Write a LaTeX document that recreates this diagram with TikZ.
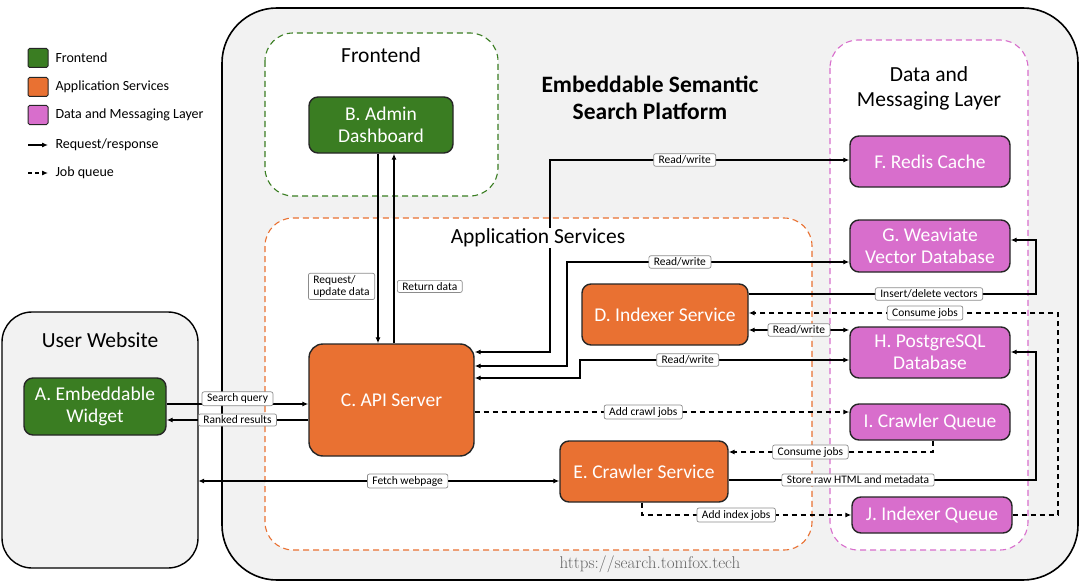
\documentclass[tikz,border=0pt]{standalone}
\usepackage{fontspec}
\setmainfont{Carlito}
\usetikzlibrary{arrows.meta,calc}
\definecolor{fg}{HTML}{3A7D22}
\definecolor{ap}{HTML}{E97132}
\definecolor{dm}{HTML}{D86ECC}
\definecolor{bg}{HTML}{F2F2F2}
\tikzset{
 x=1pt,y=-1pt,
 svc/.style={draw=black!85,line width=1.4pt,rounded corners=9pt,text=white,align=center,inner sep=0pt,font=\fontsize{19.5}{22}\selectfont},
 lbl/.style={draw=black!45,solid,line width=0.7pt,fill=white,rounded corners=2pt,font=\fontsize{11.5}{12.5}\selectfont,inner xsep=5pt,inner ysep=2pt,align=center},
 con/.style={line width=1.1pt,-{Latex[length=6pt,width=5pt]}},
 dcon/.style={con,dashed,dash pattern=on 5pt off 4pt},
 bcon/.style={con,{Latex[length=6pt,width=5pt]}-{Latex[length=6pt,width=5pt]}},
 grp/.style={line width=1.1pt,dashed,dash pattern=on 6pt off 4pt,fill=white,rounded corners=28pt},
 ttl/.style={font=\fontsize{21.5}{25}\selectfont,align=center},
 leg/.style={font=\fontsize{14}{16}\selectfont,anchor=west},
}
\begin{document}
\begin{tikzpicture}
\useasboundingbox (0,0) rectangle (1080,586);
% outer
\draw[line width=1.6pt,fill=bg,rounded corners=55pt] (222,8) rectangle (1078,580);
\draw[line width=1.4pt,fill=bg,rounded corners=30pt] (2,312) rectangle (198,568);
\node (UW) at (100,440) [minimum width=196pt,minimum height=256pt] {};
\node[ttl] at (100,340) {User Website};
% groups
\draw[grp,draw=fg] (265,33) rectangle (498,196);
\node[ttl] at (381,55) {Frontend};
\draw[grp,draw=ap] (265,218) rectangle (812,550);
\draw[grp,draw=dm] (830,40) rectangle (1028,550);
\node[ttl] at (929,88) {Data and\\Messaging Layer};
\node[font=\bfseries\fontsize{23.5}{27}\selectfont,align=center] at (650,98) {Embeddable Semantic\\Search Platform};
% legend
\foreach \c/\y/\t in {fg/58/Frontend,ap/87/Application Services,dm/115/Data and Messaging Layer}{
 \draw[fill=\c,draw=black!85,line width=1pt,rounded corners=1.5pt] (28,\y-9.5) rectangle (48,\y+9.5);
 \node[leg] at (52,\y) {\t};}
\coordinate (l1a) at (28,145); \coordinate (l1b) at (48,145);
\coordinate (l2a) at (28,173); \coordinate (l2b) at (48,173);
\draw[con] (l1a) -- (l1b); \node[leg] at (52,145) {Request/response};
\draw[dcon,dash pattern=on 4pt off 3pt] (l2a) -- (l2b); \node[leg] at (52,173) {Job queue};
% nodes
\node[svc,fill=fg,minimum width=142pt,minimum height=57pt] (A) at (95,406.5) {A. Embeddable\\Widget};
\node[svc,fill=fg,minimum width=144pt,minimum height=56pt] (B) at (381,125) {B. Admin\\Dashboard};
\node[svc,fill=ap,minimum width=165pt,minimum height=112pt,rounded corners=14pt] (C) at (391.5,400) {C. API Server};
\node[svc,fill=ap,minimum width=166pt,minimum height=61pt] (D) at (665,314.5) {D. Indexer Service};
\node[svc,fill=ap,minimum width=168pt,minimum height=61pt] (E) at (644,471.5) {E. Crawler Service};
\node[svc,fill=dm,minimum width=160pt,minimum height=51pt] (F) at (930,161.5) {F. Redis Cache};
\node[svc,fill=dm,minimum width=160pt,minimum height=52pt] (G) at (930,246) {G. Weaviate\\Vector Database};
\node[svc,fill=dm,minimum width=160pt,minimum height=51pt] (H) at (930,352.5) {H. PostgreSQL\\Database};
\node[svc,fill=dm,minimum width=160pt,minimum height=36pt] (I) at (930,422) {I. Crawler Queue};
\node[svc,fill=dm,minimum width=160pt,minimum height=36pt] (J) at (932,515) {J. Indexer Queue};
% connectors
\draw[con] (B.south -| 378,0) -- (C.north -| 378,0) node[lbl,pos=0.7,left=3pt,align=left] {Request/\\update data};
\draw[con] (C.north -| 394,0) -- (B.south -| 394,0) node[lbl,pos=0.3,right=3pt] {Return data};
\draw[con] (A.east |- 0,404) -- (C.west |- 0,404) node[lbl,midway,above=-2pt] {Search query};
\draw[con] (C.west |- 0,420) -- (A.east |- 0,420) node[lbl,midway] {Ranked results};
\draw[bcon] (C.east |- 0,352) -- (550,352) -- (550,160) -- (F.west |- 0,160) node[lbl,pos=0.45] {Read/write};
\draw[bcon] (C.east |- 0,366) -- (567,366) -- (567,262) -- (G.west |- 0,262) node[lbl,pos=0.4] {Read/write};
\draw[bcon] (C.east |- 0,378) -- (580,378) -- (580,360) -- (H.west |- 0,360) node[lbl,pos=0.4] {Read/write};
\draw[con] (D.east |- 0,294) -- (1036,294) -- (1036,240) -- (G.east |- 0,240);
\node[lbl] at (929,294) {Insert/delete vectors};
\draw[dcon] (J.east) -- (1058,515) -- (1058,313) -- (D.east |- 0,313);
\node[lbl] at (925,313) {Consume jobs};
\draw[bcon] (D.east |- 0,330) -- (H.west |- 0,330) node[lbl,midway] {Read/write};
\draw[dcon] (C.east |- 0,412) -- (I.west |- 0,412) node[lbl,pos=0.45] {Add crawl jobs};
\draw[dcon] (I.south -| 933,0) -- (933,452) -- (E.east |- 0,452) node[lbl,pos=0.6] {Consume jobs};
\draw[con] (E.east |- 0,480) -- (1036,480) -- (1036,352) -- (H.east |- 0,352);
\node[lbl] at (858,480) {Store raw HTML and metadata};
\draw[dcon] (E.south -| 642,0) -- (642,515) -- (J.west) node[lbl,pos=0.45] {Add index jobs};
\draw[bcon] (UW.east |- 0,481) -- (E.west |- 0,481) node[lbl,pos=0.58] {Fetch webpage};
\node[ttl,fill=white,inner sep=1pt] at (538,238) {Application Services};
\node[text=black!60,font=\fontsize{17}{19}\selectfont] (url) at (650,564) {\fontspec{Latin Modern Roman}https://search.tomfox.tech};
\end{tikzpicture}
\end{document}
